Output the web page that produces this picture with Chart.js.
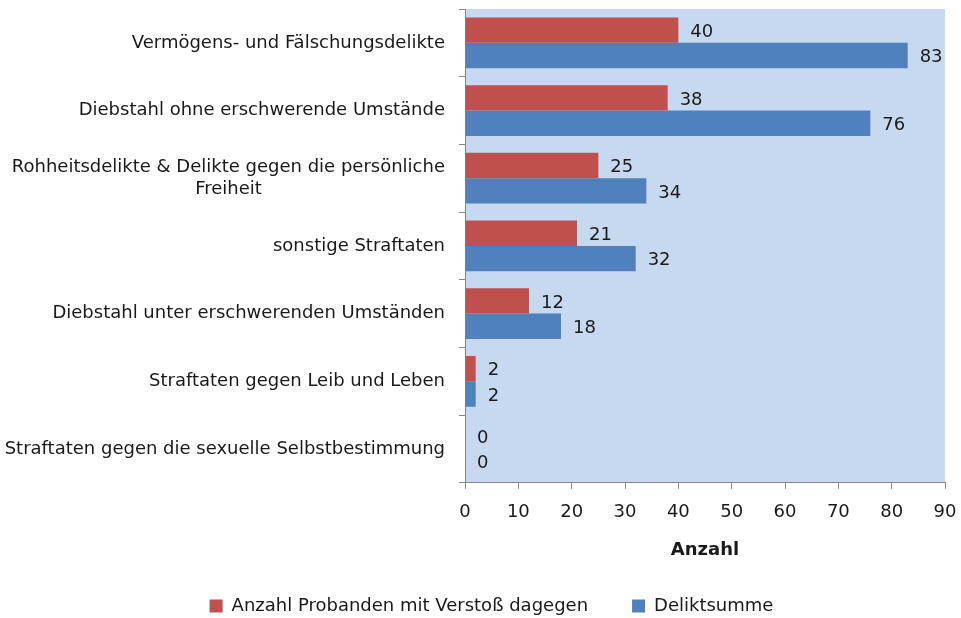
<!DOCTYPE html>
<html>
<head>
<meta charset="utf-8">
<script src="https://cdn.jsdelivr.net/npm/chart.js@4/dist/chart.umd.min.js"></script>
<style>
  html, body { margin: 0; padding: 0; background: #fff; }
  #wrap { width: 961px; height: 618px; }
</style>
</head>
<body>
<div id="wrap"><canvas id="chart" width="961" height="618"></canvas></div>
<script>
// Kategorien von oben nach unten
const categories = [
  'Vermögens- und Fälschungsdelikte',
  'Diebstahl ohne erschwerende Umstände',
  ['Rohheitsdelikte & Delikte gegen die persönliche', 'Freiheit'],
  'sonstige Straftaten',
  'Diebstahl unter erschwerenden Umständen',
  'Straftaten gegen Leib und Leben',
  'Straftaten gegen die sexuelle Selbstbestimmung'
]
const probanden = [40, 38, 25, 21, 12, 2, 0]
const deliktsumme = [83, 76, 34, 32, 18, 2, 0]
const xTicks = [0, 10, 20, 30, 40, 50, 60, 70, 80, 90]

const FONT = "'DejaVu Sans', sans-serif"
const SIZE = 18

// hellblauer Plotbereich
const plotBg = {
  id: 'plotBg',
  beforeDraw(chart) {
    const { ctx, chartArea: a } = chart
    ctx.save()
    ctx.fillStyle = '#c6d9f1'
    ctx.fillRect(a.left, a.top, a.right - a.left, a.bottom - a.top)
    ctx.restore()
  }
}

// Werte rechts neben den Balken
const valueLabels = {
  id: 'valueLabels',
  afterDatasetsDraw(chart) {
    const ctx = chart.ctx
    ctx.save()
    ctx.font = SIZE + 'px ' + FONT
    ctx.fillStyle = '#1a1a1a'
    ctx.textAlign = 'left'
    ctx.textBaseline = 'middle'
    chart.data.datasets.forEach((ds, i) => {
      chart.getDatasetMeta(i).data.forEach((bar, j) => {
        ctx.fillText(String(ds.data[j]), bar.x + 12, bar.y + 2)
      })
    })
    ctx.restore()
  }
}

// Legende etwas nach rechts wie im Original
const legendShift = {
  id: 'legendShift',
  afterLayout(chart) {
    if (chart.legend) chart.legend.left += 38
  }
}

new Chart(document.getElementById('chart'), {
  type: 'bar',
  data: {
    labels: categories,
    datasets: [
      {
        label: 'Anzahl Probanden mit Verstoß dagegen',
        data: probanden,
        backgroundColor: '#c0504d',
        categoryPercentage: 0.75,
        barPercentage: 1
      },
      {
        label: 'Deliktsumme',
        data: deliktsumme,
        backgroundColor: '#4f81bd',
        categoryPercentage: 0.75,
        barPercentage: 1
      }
    ]
  },
  options: {
    indexAxis: 'y',
    responsive: false,
    animation: false,
    layout: { padding: { top: 9, right: 16, left: 0, bottom: -7 } },
    plugins: {
      legend: {
        position: 'bottom',
        labels: {
          font: { family: FONT, size: SIZE },
          color: '#1a1a1a',
          boxWidth: 13,
          boxHeight: 13,
          padding: 44
        }
      },
      tooltip: { enabled: false }
    },
    scales: {
      x: {
        min: 0,
        max: 90,
        afterBuildTicks: s => { s.ticks = xTicks.map(v => ({ value: v })) },
        afterFit: s => { s.paddingLeft = 0; s.paddingRight = 0 },
        grid: { drawOnChartArea: false, color: '#868686', tickLength: 6 },
        border: { color: '#868686' },
        ticks: { font: { family: FONT, size: SIZE }, color: '#1a1a1a', padding: 13 },
        title: {
          display: true,
          text: 'Anzahl',
          font: { family: FONT, size: SIZE, weight: 'bold' },
          color: '#1a1a1a',
          padding: { top: 3, bottom: -8 }
        }
      },
      y: {
        afterFit: s => { s.width = 465; s.paddingTop = 0; s.paddingBottom = 0 },
        grid: { drawOnChartArea: false, color: '#868686', tickLength: 6 },
        border: { color: '#868686' },
        ticks: {
          font: { family: FONT, size: SIZE },
          color: '#1a1a1a',
          padding: 14,
          // zweite Zeile unter der ersten zentriert
          callback: (v, i) => i === 2 ? [categories[2][0], categories[2][1] + '\u00a0'.repeat(32)] : categories[i]
        }
      }
    }
  },
  plugins: [plotBg, valueLabels, legendShift]
})
</script>
</body>
</html>
